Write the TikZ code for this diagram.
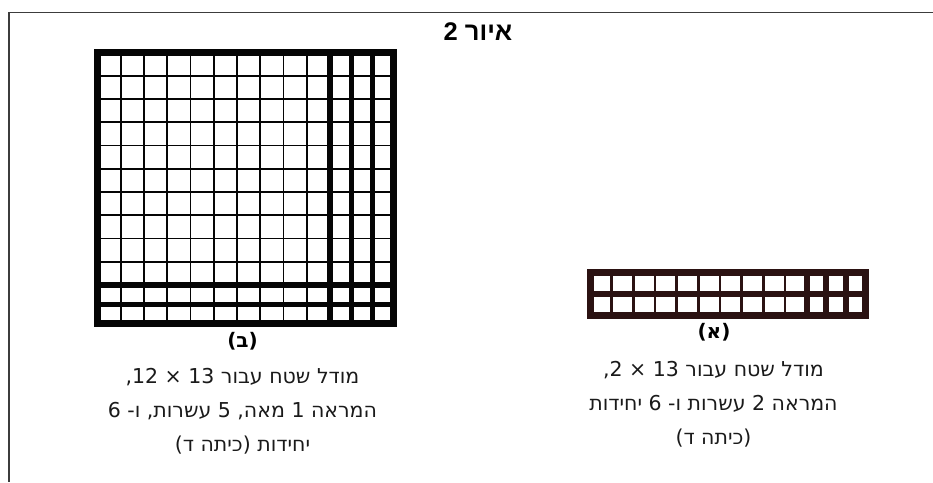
\documentclass[tikz,border=0pt]{standalone}
\usepackage{fontspec}
\setmainfont{Liberation Sans}
\newfontfamily\hebfont[Script=Hebrew]{Liberation Sans}
\newfontfamily\capfont[Script=Hebrew]{DejaVu Sans}
\TeXXeTstate=1
\definecolor{gridink}{HTML}{050505}
\definecolor{stripink}{HTML}{2B1212}
\definecolor{frameink}{HTML}{3C3C3C}
\definecolor{textink}{HTML}{1A1A1A}

\begin{document}
\begin{tikzpicture}[x=1pt, y=-1pt,
  frameline/.style = {draw=frameink, line width=1.8pt},
  thinline/.style = {draw=gridink, line width=1.9pt},
  thickline/.style = {draw=gridink, line width=5.8pt},
  rimline/.style = {draw=gridink, line width=7pt},
  sthin/.style = {draw=stripink, line width=2.6pt},
  sthick/.style = {draw=stripink, line width=6pt},
  srim/.style = {draw=stripink, line width=7pt},
  caption/.style = {font=\capfont\fontsize{20.5}{34}\selectfont, text=textink, align=center, inner sep=0pt},
  tag/.style = {font=\capfont\bfseries\fontsize{20}{22}\selectfont, inner sep=0pt},
  heading/.style = {font=\hebfont\bfseries\fontsize{25.5}{28}\selectfont, inner sep=0pt},
]
\useasboundingbox[fill=white] (0,0) rectangle (933,482);
\draw[frameline] (933,12.5) -- (9,12.5) -- (9,482);
\node[heading] (title) at (478,32) {\beginR איור 2\endR};

\foreach \i in {1,...,9} {
  \draw[thinline] ({97.5+23.25*\i},52.5) -- ({97.5+23.25*\i},323.5);
  \draw[thinline] (97.5,{52.5+23.25*\i}) -- (393.5,{52.5+23.25*\i});
}
\foreach \x in {330,351.5,372.5}
  \draw[thickline] (\x,52.5) -- (\x,323.5);
\foreach \y in {285,304.5}
  \draw[thickline] (97.5,\y) -- (393.5,\y);
\draw[rimline] (97.5,52.5) rectangle (393.5,323.5);

\foreach \i in {1,...,9}
  \draw[sthin] ({590+21.67*\i},272.5) -- ({590+21.67*\i},315);
\foreach \x in {806.7,826.3,846}
  \draw[sthick] (\x,272.5) -- (\x,315);
\draw[sthick] (590,293.75) -- (865.5,293.75);
\draw[srim] (590,272.5) rectangle (865.5,315);

\node[tag] (tagB) at (242.5,341) {\beginR(ב)\endR};
\node[tag] (tagA) at (714,332) {\beginR(א)\endR};
\node[caption] (capB) at (242.5,411) {\beginR מודל שטח עבור 13 × 12,\endR\\\beginR המראה 1 מאה, 5 עשרות, ו- 6\endR\\\beginR יחידות (כיתה ד)\endR};
\node[caption] (capA) at (713.5,404) {\beginR מודל שטח עבור 13 × 2,\endR\\\beginR המראה 2 עשרות ו- 6 יחידות\endR\\\beginR (כיתה ד)\endR};
\end{tikzpicture}
\end{document}
